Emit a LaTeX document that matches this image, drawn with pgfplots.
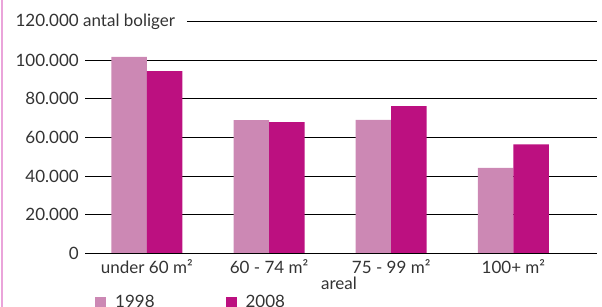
\documentclass[border=0pt]{standalone}
\usepackage{fontspec}
\setmainfont{Lato}
\usepackage{pgfplots}
\pgfplotsset{compat=1.18}
\definecolor{c98}{RGB}{204,136,180}
\definecolor{c08}{RGB}{188,16,128}
\definecolor{side}{RGB}{234,164,218}
\definecolor{txt}{RGB}{51,51,51}
\begin{document}
\begin{tikzpicture}[x=1pt,y=1pt]
\path[use as bounding box] (0,0) rectangle (602,-307);
\fill[side] (0.5,0) rectangle (2.8,-307);
\begin{axis}[
  at={(85pt,-253.5pt)}, anchor=south west,
  scale only axis, width=512pt, height=232.2pt,
  ymin=0, ymax=120000, xmin=-0.506, xmax=3.684,
  clip=false,
  ybar=0pt, bar width=35.5pt,
  axis x line*=bottom, axis y line*=left,
  y axis line style={draw=none},
  x axis line style={draw=none},
  major tick length=0pt,
  ytick={0,20000,40000,60000,80000,100000},
  extra y ticks={120000},
  extra y tick labels={120.000\rlap{\ antal boliger}},
  extra y tick style={grid=none},
  ymajorgrids, grid style={black, line width=0.9pt},
  scaled y ticks=false,
  /pgf/number format/1000 sep={.},
  /pgf/number format/fixed,
  /pgf/number format/assume math mode=true,
  yticklabel style={anchor=east, inner sep=0pt, xshift=-6pt},
  xtick={0,1,2,3},
  xticklabels={under 60 m², 60 - 74 m², 75 - 99 m², 100+ m²},
  xticklabel style={anchor=base, inner sep=0pt, yshift=-19.5pt},
  every tick label/.append style={font=\fontsize{17}{20}\selectfont, text=txt},
  xlabel={areal},
  xlabel style={at={(axis description cs:0.496,-0.157)}, anchor=base, inner sep=0pt, font=\fontsize{17}{20}\selectfont, text=txt},
  legend columns=2,
  legend image code/.code={\fill[#1,draw=none] (0pt,-5.5pt) rectangle (11pt,5.5pt);},
  legend style={draw=none, fill=none, at={(axis description cs:0.0195,-0.209)}, anchor=west, inner sep=0pt,
    font=\fontsize{17}{20}\selectfont, text=txt,
    nodes={inner sep=0pt},
    /tikz/every odd column/.append style={column sep=9pt},
    /tikz/every even column/.append style={column sep=71pt}},
]
\addplot[fill=c98, draw=none] coordinates {(0,101600) (1,68900) (2,69100) (3,44300)};
\addplot[fill=c08, draw=none] coordinates {(0,94300) (1,67900) (2,76100) (3,56400)};
\legend{1998,2008}
\draw[black, line width=0.9pt] (axis cs:0.328,120000) -- (axis cs:3.684,120000);
\draw[black, line width=0.9pt] (axis cs:-0.506,0) -- (axis cs:3.684,0);
\end{axis}
\end{tikzpicture}
\end{document}
